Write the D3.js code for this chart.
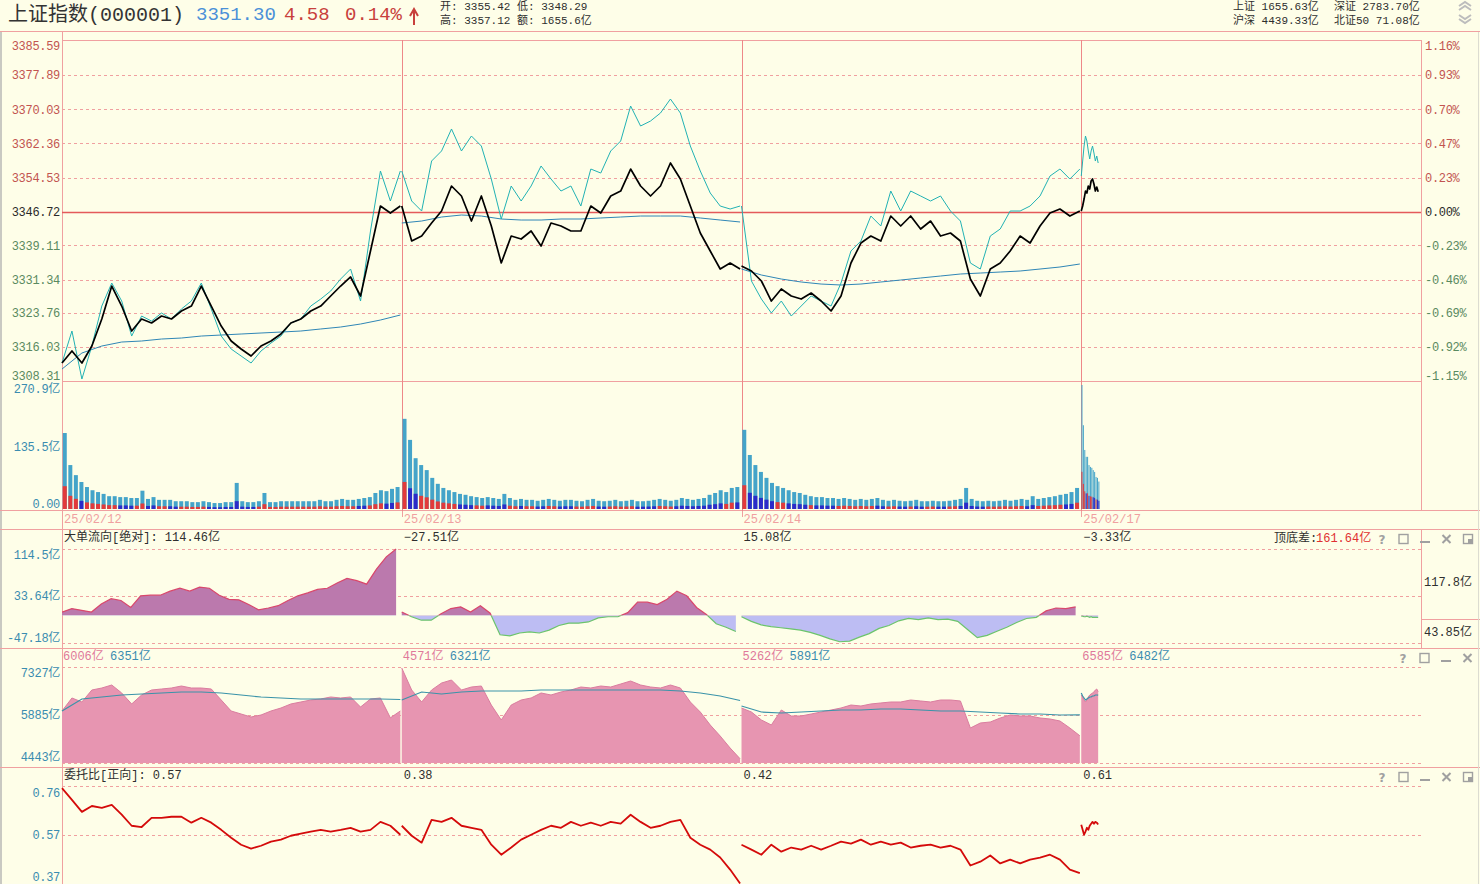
<!DOCTYPE html>
<html>
<head>
<meta charset="utf-8">
<script src="https://cdn.jsdelivr.net/npm/d3@7"></script>
<style>
  html, body { margin: 0; padding: 0; background: #fefee8; }
  svg { display: block; }
</style>
</head>
<body>
<svg id="chart" width="1480" height="884"></svg>
<script>
// ---- data ----
const DAY_LABELS = ['25/02/12', '25/02/13', '25/02/14', '25/02/17'];
const DAY_MIN = 241;          // minutes per session slot on the x axis
const FULL_SPAN = 240;        // minutes covered by a full-day sample array
const FLOW_SPAN = 237;        // big-order flow stops a little before the close
const PREV_CLOSE = 3346.72;

const priceTicks = [3385.59, 3377.89, 3370.03, 3362.36, 3354.53, 3346.72, 3339.11, 3331.34, 3323.76, 3316.03, 3308.31];
const pctLabels = ['1.16%', '0.93%', '0.70%', '0.47%', '0.23%', '0.00%', '-0.23%', '-0.46%', '-0.69%', '-0.92%', '-1.15%'];
const volTicks = [0, 135.5, 270.9];
const volLabels = ['0.00', '135.5亿', '270.9亿'];
const flowTicks = [-47.18, 33.64, 114.5];
const flowLabels = ['-47.18亿', '33.64亿', '114.5亿'];
const amtTicks = [4443, 5885, 7327];
const amtLabels = ['4443亿', '5885亿', '7327亿'];
const ratioTicks = [0.37, 0.57, 0.76];
const ratioLabels = ['0.37', '0.57', '0.76'];

// index (black), days 1-3 sampled evenly over the session, day 4 one value per minute
const closeByDay = [
  [3312.40, 3315.13, 3312.40, 3316.26, 3322.40, 3329.90, 3325.35, 3319.67, 3322.40, 3321.49, 3323.08, 3322.40, 3324.22, 3325.35, 3329.90, 3325.35, 3320.81, 3317.40, 3315.58, 3313.99, 3316.26, 3317.40, 3318.99, 3321.49, 3322.40, 3324.22, 3325.35, 3327.63, 3329.90, 3331.95, 3327.63, 3337.86, 3348.08, 3346.49, 3348.08],
  [3348.08, 3340.13, 3341.26, 3344.22, 3346.95, 3352.63, 3350.36, 3344.67, 3350.36, 3343.54, 3335.13, 3341.26, 3340.58, 3342.40, 3338.99, 3344.22, 3343.54, 3342.40, 3342.40, 3348.08, 3346.49, 3350.36, 3351.49, 3356.49, 3352.63, 3350.36, 3352.63, 3357.86, 3354.22, 3348.08, 3341.95, 3337.86, 3333.76, 3335.13, 3333.76],
  [3334.45, 3333.31, 3331.04, 3326.49, 3329.22, 3327.63, 3326.94, 3328.31, 3326.49, 3324.22, 3327.63, 3335.13, 3339.67, 3341.26, 3340.13, 3345.81, 3343.54, 3345.81, 3342.86, 3344.67, 3341.26, 3341.95, 3340.13, 3331.49, 3327.63, 3333.76, 3335.13, 3337.86, 3341.26, 3339.67, 3343.54, 3346.49, 3347.40, 3345.81, 3346.95],
  [3346.95, 3348.08, 3349.67, 3351.49, 3351.04, 3352.63, 3351.95, 3353.77, 3354.22, 3353.08, 3351.49, 3352.40, 3351.30]
];
// leading line (cyan)
const leadByDay = [
  [3312.40, 3319.67, 3308.76, 3316.26, 3325.35, 3330.58, 3326.49, 3318.53, 3323.08, 3321.94, 3323.76, 3322.40, 3324.67, 3326.49, 3330.58, 3324.67, 3318.53, 3315.58, 3313.99, 3312.40, 3315.13, 3316.94, 3318.53, 3321.49, 3322.40, 3325.35, 3326.94, 3328.76, 3331.49, 3333.76, 3326.49, 3342.40, 3356.04, 3349.22, 3356.04],
  [3356.04, 3349.22, 3346.95, 3358.31, 3360.59, 3365.59, 3360.59, 3363.99, 3361.72, 3354.22, 3345.13, 3352.63, 3349.22, 3352.63, 3357.18, 3354.22, 3351.49, 3352.63, 3348.08, 3356.49, 3355.58, 3360.59, 3362.86, 3370.81, 3366.27, 3367.40, 3369.22, 3372.40, 3369.22, 3361.72, 3356.04, 3351.04, 3348.08, 3347.40, 3348.08],
  [3348.08, 3331.04, 3326.94, 3323.76, 3326.49, 3323.08, 3325.35, 3327.63, 3326.49, 3325.35, 3330.58, 3337.86, 3340.13, 3345.81, 3343.54, 3351.49, 3346.95, 3351.49, 3350.36, 3349.22, 3350.36, 3346.95, 3344.67, 3335.13, 3333.76, 3341.26, 3342.86, 3346.95, 3346.95, 3348.08, 3350.36, 3354.90, 3356.49, 3354.22, 3356.49],
  [3354.90, 3358.31, 3361.72, 3363.99, 3362.86, 3360.59, 3358.77, 3360.59, 3361.72, 3360.13, 3358.31, 3359.45, 3357.86]
];
// average price (blue)
const avgByDay = [
  [3311.03, 3314.67, 3316.26, 3317.17, 3317.40, 3317.85, 3318.08, 3318.53, 3318.76, 3318.99, 3319.22, 3319.44, 3319.67, 3320.13, 3320.58, 3321.26, 3322.17, 3323.31],
  [3344.22, 3344.67, 3345.58, 3346.04, 3345.81, 3345.13, 3344.90, 3344.90, 3345.13, 3345.13, 3345.36, 3345.58, 3345.81, 3345.81, 3345.81, 3345.36, 3344.90, 3344.45],
  [3333.76, 3332.40, 3331.49, 3330.81, 3330.35, 3330.13, 3330.35, 3330.81, 3331.26, 3331.72, 3332.17, 3332.63, 3332.85, 3333.08, 3333.31, 3333.76, 3334.22, 3334.90]
];
// turnover bars, 亿
const volumeByDay = [
  [166, 96, 74, 59, 48, 41, 37, 33, 28, 28, 26, 26, 24, 24, 40, 22, 26, 20, 20, 20, 17, 17, 17, 15, 15, 17, 15, 13, 13, 15, 15, 57, 17, 15, 15, 17, 35, 15, 15, 17, 17, 17, 17, 17, 17, 17, 20, 17, 17, 20, 22, 20, 20, 22, 24, 26, 35, 41, 39, 44, 48],
  [197, 151, 111, 96, 85, 68, 55, 46, 41, 37, 33, 31, 28, 26, 24, 26, 24, 22, 33, 24, 20, 22, 20, 20, 18, 20, 22, 20, 18, 20, 20, 18, 17, 20, 22, 18, 17, 18, 20, 17, 18, 20, 17, 17, 18, 20, 22, 20, 18, 20, 24, 22, 20, 22, 24, 31, 35, 41, 37, 46, 48],
  [173, 118, 96, 81, 68, 57, 50, 46, 41, 37, 35, 31, 28, 26, 26, 24, 24, 22, 24, 22, 20, 22, 20, 22, 24, 20, 18, 20, 18, 17, 18, 20, 17, 17, 18, 17, 17, 18, 20, 22, 46, 22, 18, 17, 18, 17, 18, 20, 18, 20, 22, 20, 28, 22, 24, 26, 28, 31, 33, 37, 46],
  [270.9, 183, 129, 114, 114, 96, 92, 90, 85, 81, 70, 68, 60]
];
// 大单流向, 亿
const flowByDay = [
  [6, 12, 9, 6, 20, 29, 26, 14, 34, 35, 35, 42, 47, 42, 49, 47, 35, 28, 27, 19, 10, 13, 17, 26, 34, 39, 45, 47, 56, 64, 60, 54, 80, 101, 114.46],
  [6, -2, -8, -8, 3, 12, 15, 6, 17, 4, -33, -35, -30, -28, -30, -25, -17, -13, -13, -11, -4, -2, -2, 5, 23, 23, 19, 28, 42, 34, 14, 2, -14, -20, -27.51],
  [-2, -10, -16, -19, -21, -23, -25, -29, -34, -40, -45, -44, -37, -31, -22, -17, -9, -5, -7, -4, -7, -6, -10, -24, -38, -34, -27, -20, -12, -5, -3, 8, 13, 12, 15.08],
  [-1, -1, -2, -2, -1, -2, -3, -2, -3, -3, -3, -3, -3.33]
];
// 成交额 area and its average, 亿
const amountByDay = [
  [6005, 6396, 6276, 6636, 6696, 6786, 6546, 6216, 6486, 6636, 6666, 6696, 6756, 6696, 6696, 6666, 6336, 6005, 5915, 5825, 5885, 6005, 6095, 6216, 6276, 6336, 6366, 6426, 6396, 6426, 6125, 6366, 6396, 5800, 6006],
  [7297, 6636, 6276, 6636, 6846, 6936, 6636, 6726, 6756, 6185, 5735, 6185, 6336, 6396, 6546, 6486, 6576, 6636, 6726, 6696, 6756, 6726, 6816, 6906, 6786, 6726, 6696, 6786, 6696, 6276, 5975, 5585, 5254, 4894, 4571],
  [6095, 5975, 5735, 5585, 6035, 5855, 5855, 5915, 5975, 6035, 6095, 6185, 6155, 6216, 6246, 6276, 6276, 6336, 6306, 6276, 6336, 6336, 6306, 5494, 5645, 5675, 5795, 5885, 5855, 5855, 5795, 5765, 5705, 5494, 5262],
  [6486, 6426, 6336, 6276, 6336, 6426, 6486, 6516, 6546, 6576, 6636, 6666, 6585]
];
const amountMaByDay = [
  [6005, 6366, 6426, 6486, 6516, 6546, 6576, 6576, 6546, 6486, 6426, 6396, 6366, 6366, 6366, 6366, 6366, 6351],
  [6336, 6576, 6516, 6576, 6606, 6606, 6606, 6636, 6636, 6636, 6636, 6636, 6636, 6636, 6606, 6546, 6456, 6321],
  [6155, 5975, 5945, 5975, 6005, 6035, 6035, 6065, 6065, 6035, 6005, 6005, 5975, 5945, 5915, 5915, 5885, 5891],
  [6546, 6456, 6396, 6336, 6366, 6396, 6426, 6426, 6456, 6456, 6486, 6486, 6482]
];
// 委托比
const ratioByDay = [
  [0.752, 0.706, 0.659, 0.682, 0.675, 0.686, 0.648, 0.605, 0.600, 0.636, 0.636, 0.640, 0.640, 0.617, 0.636, 0.617, 0.589, 0.558, 0.531, 0.516, 0.527, 0.543, 0.551, 0.566, 0.574, 0.582, 0.589, 0.582, 0.589, 0.597, 0.582, 0.589, 0.620, 0.605, 0.570],
  [0.605, 0.566, 0.539, 0.628, 0.620, 0.636, 0.605, 0.597, 0.589, 0.531, 0.492, 0.520, 0.551, 0.570, 0.589, 0.605, 0.597, 0.620, 0.605, 0.617, 0.605, 0.620, 0.613, 0.648, 0.620, 0.597, 0.605, 0.620, 0.628, 0.558, 0.531, 0.512, 0.481, 0.434, 0.380],
  [0.531, 0.512, 0.492, 0.531, 0.504, 0.520, 0.512, 0.527, 0.512, 0.527, 0.543, 0.535, 0.551, 0.531, 0.543, 0.531, 0.539, 0.520, 0.527, 0.531, 0.520, 0.527, 0.512, 0.450, 0.465, 0.489, 0.458, 0.473, 0.458, 0.473, 0.481, 0.492, 0.473, 0.434, 0.420],
  [0.609, 0.589, 0.570, 0.582, 0.597, 0.589, 0.605, 0.613, 0.620, 0.613, 0.620, 0.617, 0.610]
];
const quoteHead = { name: '上证指数(000001)', last: '3351.30', chg: '4.58', pct: '0.14%' };
const quoteStats = ['开: 3355.42  低: 3348.29', '高: 3357.12  额: 1655.6亿'];
const marketStats = [['上证 1655.63亿', '深证 2783.70亿'], ['沪深 4439.33亿', '北证50 71.08亿']];
const flowRight = ['117.8亿', '43.85亿'];
const flowRange = '161.64亿';

// ---- layout ----
const W = 1480, H = 884;
const L = 62, R = 1421;
const BG = '#fefee8';
const FRAME = '#f0a0a0';
const SEP = '#ee8888';
const MONO = "'Liberation Mono','Noto Sans CJK SC',monospace";
const TEAL = '#3a8cb0';

const svg = d3.select('#chart');
svg.append('rect').attr('width', W).attr('height', H).attr('fill', BG);

const x = d3.scaleLinear().domain([0, 4 * DAY_MIN]).range([L, R]);
const yPrice = d3.scaleLinear().domain([3308.31, 3385.59]).range([381, 41]);
const yVol = d3.scaleLinear().domain([0, 270.9]).range([509, 385]);
const yFlow = d3.scaleLinear().domain([-47.18, 114.5]).range([643, 549]);
const yAmt = d3.scaleLinear().domain([4443, 7327]).range([763, 667]);
const yRatio = d3.scaleLinear().domain([0.37, 0.76]).range([886, 786]);

// points for one day: full days spread over a span, day 4 one per minute
function toPoints(arr, day, span) {
  const step = day < 3 ? span / (arr.length - 1) : 1;
  return arr.map((v, i) => ({ m: day * DAY_MIN + i * step, v }));
}

// ---- frame & grids ----
const frame = svg.append('g').attr('shape-rendering', 'crispEdges');
function hline(y, x1, x2, color, dash) {
  frame.append('line').attr('x1', x1).attr('x2', x2).attr('y1', y).attr('y2', y)
    .attr('stroke', color).attr('stroke-dasharray', dash || null);
}
function vline(xx, y1, y2, color) {
  frame.append('line').attr('x1', xx).attr('x2', xx).attr('y1', y1).attr('y2', y2).attr('stroke', color);
}
frame.append('rect').attr('x', 0).attr('y', 32).attr('width', 2).attr('height', H - 32).attr('fill', '#c9c9c2');

priceTicks.slice(1, -1).forEach(v => {
  if (v !== PREV_CLOSE) hline(Math.round(yPrice(v)) + 0.5, L, R, FRAME, '3,3');
});
flowTicks.forEach(v => hline(Math.round(yFlow(v)) + 0.5, L, R, FRAME, '3,3'));
amtTicks.forEach(v => hline(Math.round(yAmt(v)) + 0.5, L, R, FRAME, '3,3'));
ratioTicks.slice(1).forEach(v => hline(Math.round(yRatio(v)) + 0.5, L, R, FRAME, '3,3'));

hline(31.5, 0, W, FRAME);
hline(40.5, L, R, FRAME);
hline(381.5, L, R, FRAME);
hline(510.5, 0, W, FRAME);
hline(529.5, 0, W, FRAME);
hline(648.5, 0, W, FRAME);
hline(767.5, 0, W, FRAME);
hline(619.5, R, W, FRAME);
vline(L + 0.5, 31, H, FRAME);
vline(R + 0.5, 40, 511, FRAME);
vline(R + 0.5, 529, 648, FRAME);
vline(W - 1.5, 32, H, '#dcdcd0');
[1, 2, 3].forEach(d => {
  const xx = Math.round(x(d * DAY_MIN)) + 0.5;
  vline(xx, 40, 511, SEP);
  vline(xx, 511, 517, FRAME);
});
// previous close line
svg.append('line').attr('x1', L).attr('x2', R)
  .attr('y1', Math.round(yPrice(PREV_CLOSE)) + 0.5).attr('y2', Math.round(yPrice(PREV_CLOSE)) + 0.5)
  .attr('stroke', '#e45a5a').attr('stroke-width', 1.4);

// ---- axes ----
function styleAxis(g) {
  g.attr('font-family', MONO).attr('font-size', 12).attr('letter-spacing', '-0.3px');
  g.select('.domain').remove();
}
function edgeShift(vals, shiftTop, shiftBottom) {
  const hi = d3.max(vals), lo = d3.min(vals);
  return d => d === hi ? shiftTop : d === lo ? shiftBottom : 0;
}
function priceColor(d) { return d > PREV_CLOSE ? '#c25450' : d < PREV_CLOSE ? '#5a8a60' : '#2a2a2a'; }

const axP = svg.append('g').attr('transform', `translate(${L - 2},0)`)
  .call(d3.axisLeft(yPrice).tickValues(priceTicks).tickSize(0).tickPadding(0).tickFormat(d3.format('.2f')));
styleAxis(axP);
axP.selectAll('text').attr('fill', priceColor).attr('y', edgeShift(priceTicks, 5, -5));

const axPct = svg.append('g').attr('transform', `translate(${R + 4},0)`)
  .call(d3.axisRight(yPrice).tickValues(priceTicks).tickSize(0).tickPadding(0).tickFormat((d, i) => pctLabels[i]));
styleAxis(axPct);
axPct.selectAll('text').attr('fill', priceColor).attr('y', edgeShift(priceTicks, 5, -5));

function sideAxis(scale, ticks, labels, top, bottom) {
  const g = svg.append('g').attr('transform', `translate(${L - 2},0)`)
    .call(d3.axisLeft(scale).tickValues(ticks).tickSize(0).tickPadding(0).tickFormat((d, i) => labels[i]));
  styleAxis(g);
  g.selectAll('text').attr('fill', TEAL).attr('y', edgeShift(ticks, top, bottom));
}
sideAxis(yVol, volTicks, volLabels, 4, -5);
sideAxis(yFlow, flowTicks, flowLabels, 6, -5);
sideAxis(yAmt, amtTicks, amtLabels, 6, -6);
sideAxis(yRatio, ratioTicks, ratioLabels, 7, -9);

// ---- price panel ----
const line = scale => d3.line().x(d => x(d.m)).y(d => scale(d.v));
const pricePanel = svg.append('g').attr('fill', 'none');
avgByDay.forEach((arr, d) => {
  pricePanel.append('path').datum(toPoints(arr, d, FULL_SPAN))
    .attr('d', line(yPrice)).attr('stroke', '#2f86b6').attr('stroke-width', 1);
});
leadByDay.forEach((arr, d) => {
  pricePanel.append('path').datum(toPoints(arr, d, FULL_SPAN))
    .attr('d', line(yPrice)).attr('stroke', '#22b2b4').attr('stroke-width', 1);
});
closeByDay.forEach((arr, d) => {
  pricePanel.append('path').datum(toPoints(arr, d, FULL_SPAN))
    .attr('d', line(yPrice)).attr('stroke', '#000').attr('stroke-width', 1.7).attr('stroke-linejoin', 'round');
});

// ---- volume bars ----
const pxPerMin = (R - L) / (4 * DAY_MIN);
const volG = svg.append('g');
volumeByDay.forEach((arr, d) => {
  const step = d < 3 ? FULL_SPAN / arr.length : 1;
  const bw = Math.max(1, step * pxPerMin * 0.72);
  const closes = closeByDay[d];
  const cStep = d < 3 ? FULL_SPAN / (closes.length - 1) : 1;
  arr.forEach((v, i) => {
    const m = (i + 0.5) * step;
    const cx = x(d * DAY_MIN + m);
    const j = Math.min(closes.length - 1, Math.round(m / cStep));
    const up = j === 0 || closes[j] >= closes[j - 1];
    volG.append('rect').attr('x', cx - bw / 2).attr('width', bw)
      .attr('y', yVol(v)).attr('height', yVol(0) - yVol(v)).attr('fill', '#44a4c9');
    const base = v * 0.3;
    volG.append('rect').attr('x', cx - bw / 2).attr('width', bw)
      .attr('y', yVol(base)).attr('height', yVol(0) - yVol(base)).attr('fill', up ? '#e23a3a' : '#2b2bc8');
  });
});

// ---- date strip ----
DAY_LABELS.forEach((t, d) => {
  svg.append('text').attr('x', x(d * DAY_MIN) + 2).attr('y', 520).attr('dominant-baseline', 'central')
    .attr('font-family', MONO).attr('font-size', 12).attr('fill', '#f0a0a0').text(t);
});

// ---- big order flow ----
const defs = svg.append('defs');
defs.append('clipPath').attr('id', 'flowPos').append('rect')
  .attr('x', L).attr('y', 530).attr('width', R - L).attr('height', yFlow(0) - 530);
defs.append('clipPath').attr('id', 'flowNeg').append('rect')
  .attr('x', L).attr('y', yFlow(0)).attr('width', R - L).attr('height', 648 - yFlow(0));
const flowArea = d3.area().x(d => x(d.m)).y0(yFlow(0)).y1(d => yFlow(d.v));
flowByDay.forEach((arr, d) => {
  const p = toPoints(arr, d, FLOW_SPAN);
  svg.append('path').datum(p).attr('d', flowArea).attr('fill', '#bb79ad').attr('clip-path', 'url(#flowPos)');
  svg.append('path').datum(p).attr('d', flowArea).attr('fill', '#bdbdf3').attr('clip-path', 'url(#flowNeg)');
  svg.append('path').datum(p).attr('d', line(yFlow)).attr('fill', 'none').attr('stroke', '#d9486c')
    .attr('stroke-width', 1.2).attr('clip-path', 'url(#flowPos)');
  svg.append('path').datum(p).attr('d', line(yFlow)).attr('fill', 'none').attr('stroke', '#6cc46c')
    .attr('stroke-width', 1.2).attr('clip-path', 'url(#flowNeg)');
});

// ---- amount area ----
const amtArea = d3.area().x(d => x(d.m)).y0(yAmt(4443)).y1(d => yAmt(d.v));
amountByDay.forEach((arr, d) => {
  const p = toPoints(arr, d, FULL_SPAN);
  svg.append('path').datum(p).attr('d', amtArea).attr('fill', '#e795b1');
  svg.append('path').datum(p).attr('d', line(yAmt)).attr('fill', 'none').attr('stroke', '#da7d9f').attr('stroke-width', 1);
});
amountMaByDay.forEach((arr, d) => {
  svg.append('path').datum(toPoints(arr, d, FULL_SPAN)).attr('d', line(yAmt))
    .attr('fill', 'none').attr('stroke', '#3a93a9').attr('stroke-width', 1.2);
});

// ---- ratio line ----
ratioByDay.forEach((arr, d) => {
  svg.append('path').datum(toPoints(arr, d, FULL_SPAN)).attr('d', line(yRatio))
    .attr('fill', 'none').attr('stroke', '#d40a0a').attr('stroke-width', 1.8).attr('stroke-linejoin', 'round');
});

// ---- texts ----
function txt(tx, ty, s, opts) {
  const o = opts || {};
  return svg.append('text').attr('x', tx).attr('y', ty).attr('dominant-baseline', 'central')
    .attr('font-family', MONO).attr('font-size', o.size || 12).attr('fill', o.fill || '#2e2e2e')
    .attr('text-anchor', o.anchor || 'start').text(s);
}
txt(8, 15, quoteHead.name, { size: 20, fill: '#333' });
txt(196, 15, quoteHead.last, { size: 19, fill: '#4a90d8' });
txt(284, 15, quoteHead.chg, { size: 19, fill: '#c8403c' });
txt(345, 15, quoteHead.pct, { size: 19, fill: '#c8403c' });
svg.append('path').attr('d', 'M414,25V11M410,16L414,9L418,16').attr('fill', 'none')
  .attr('stroke', '#c8403c').attr('stroke-width', 2);
txt(440, 7, quoteStats[0], { size: 11 });
txt(440, 21, quoteStats[1], { size: 11 });
marketStats.forEach((row, r) => {
  txt(1233, 7 + r * 14, row[0], { size: 11 });
  txt(1334, 7 + r * 14, row[1], { size: 11 });
});
svg.append('path').attr('d', 'M1459,6L1465,2L1471,6M1459,10L1465,6L1471,10M1459,15L1465,19L1471,15M1459,19L1465,23L1471,19')
  .attr('fill', 'none').attr('stroke', '#bdbdbd').attr('stroke-width', 2);

// panel headers
const fmt2 = d3.format('.2f');
flowByDay.forEach((arr, d) => {
  const label = (d === 0 ? '大单流向[绝对]: ' : '') + fmt2(arr[arr.length - 1]) + '亿';
  txt(x(d * DAY_MIN) + 2, 538, label);
});
txt(1274, 539, '顶底差:');
txt(1316, 539, flowRange, { fill: '#e03030' });
txt(1424, 583, flowRight[0]);
txt(1424, 633, flowRight[1]);

amountByDay.forEach((arr, d) => {
  const x0 = x(d * DAY_MIN) + 1;
  txt(x0, 657, arr[arr.length - 1] + '亿', { fill: '#e0789a' });
  const ma = amountMaByDay[d];
  txt(x0 + 47, 657, ma[ma.length - 1] + '亿', { fill: TEAL });
});

ratioByDay.forEach((arr, d) => {
  const label = (d === 0 ? '委托比[正向]: ' : '') + fmt2(arr[arr.length - 1]);
  txt(x(d * DAY_MIN) + 2, 776, label);
});

// window icons
function icon(type, cx, cy) {
  const g = svg.append('g').attr('stroke', '#a0a0a0').attr('fill', 'none').attr('stroke-width', 1.4);
  if (type === 'help') {
    svg.append('text').attr('x', cx).attr('y', cy + 1).attr('dominant-baseline', 'central')
      .attr('text-anchor', 'middle').attr('font-family', 'DejaVu Sans').attr('font-weight', 'bold')
      .attr('font-size', 12).attr('fill', '#a0a0a0').text('?');
  } else if (type === 'max') {
    g.append('rect').attr('x', cx - 4.5).attr('y', cy - 4.5).attr('width', 9).attr('height', 9);
  } else if (type === 'min') {
    g.append('line').attr('x1', cx - 5).attr('x2', cx + 5).attr('y1', cy + 3).attr('y2', cy + 3).attr('stroke-width', 2);
  } else if (type === 'close') {
    g.append('path').attr('d', `M${cx - 4},${cy - 4}L${cx + 4},${cy + 4}M${cx + 4},${cy - 4}L${cx - 4},${cy + 4}`).attr('stroke-width', 2);
  } else {
    g.append('rect').attr('x', cx - 4.5).attr('y', cy - 4.5).attr('width', 9).attr('height', 9);
    svg.append('rect').attr('x', cx).attr('y', cy).attr('width', 4).attr('height', 4).attr('fill', '#a0a0a0');
  }
}
const fullIcons = ['help', 'max', 'min', 'close', 'float'];
fullIcons.forEach((t, i) => icon(t, 1382 + i * 21.5, 539));
fullIcons.slice(0, 4).forEach((t, i) => icon(t, 1403 + i * 21.5, 658));
fullIcons.forEach((t, i) => icon(t, 1382 + i * 21.5, 777));
</script>
</body>
</html>
